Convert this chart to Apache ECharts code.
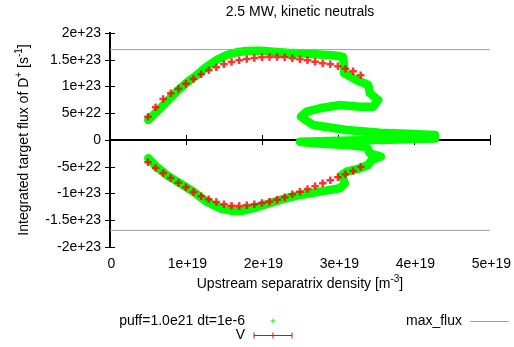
<!DOCTYPE html>
<html><head><meta charset="utf-8">
<script src="https://cdn.jsdelivr.net/npm/echarts@6/dist/echarts.min.js"></script>
<style>html,body{margin:0;padding:0;background:#fff}#c{width:514px;height:347px}</style>
</head><body><div id="c"></div>
<script>
// x in units of 1e19 m^-3, y in units of 1e23 s^-1
const xTickLabels = ['0','1e+19','2e+19','3e+19','4e+19','5e+19'];
const yTickLabels = ['-2e+23','-1.5e+23','-1e+23','-5e+22','0','5e+22','1e+23','1.5e+23','2e+23'];
const maxFlux = 1.69;
const greenX = [0.504,0.614,0.746,0.878,1.009,1.141,1.272,1.404,1.536,1.667,1.799,1.974,2.149,2.325,2.500,2.763,2.961,3.066,3.079,3.079,3.246,3.399,3.421,3.530,3.464,3.289,3.026,2.763,2.588,2.513,2.675,3.114,3.553,3.991,4.276,4.276,3.816,3.158,2.500,2.671,3.114,3.378,3.421,3.566,3.443,3.399,3.289,3.114,3.049,3.092,3.026,2.763,2.500,2.237,1.930,1.754,1.622,1.447,1.272,1.096,0.921,0.746,0.614,0.504];
const greenY = [0.374,0.529,0.716,0.903,1.071,1.215,1.370,1.495,1.589,1.639,1.664,1.669,1.650,1.632,1.621,1.598,1.579,1.551,1.402,1.252,1.121,1.028,0.873,0.748,0.622,0.622,0.654,0.593,0.529,0.436,0.280,0.187,0.136,0.112,0.093,0.028,0.009,-0.009,-0.032,-0.062,-0.093,-0.131,-0.249,-0.308,-0.374,-0.467,-0.529,-0.593,-0.654,-0.809,-0.903,-0.966,-1.028,-1.121,-1.258,-1.321,-1.327,-1.277,-1.153,-0.966,-0.809,-0.654,-0.499,-0.342];
const redX = [0.5,0.6,0.7,0.8,0.9,1.0,1.1,1.2,1.3,1.4,1.5,1.6,1.7,1.8,1.9,2.0,2.1,2.2,2.3,2.4,2.5,2.6,2.7,2.8,2.9,3.0,3.1,3.2,3.3];
const redUpperY = [0.436,0.611,0.766,0.873,0.959,1.052,1.140,1.228,1.303,1.359,1.415,1.458,1.490,1.514,1.533,1.546,1.551,1.551,1.546,1.527,1.508,1.490,1.464,1.434,1.415,1.378,1.333,1.284,1.209];
const redLowerY = [-0.417,-0.523,-0.617,-0.710,-0.798,-0.884,-0.972,-1.051,-1.107,-1.159,-1.202,-1.228,-1.234,-1.221,-1.202,-1.178,-1.153,-1.116,-1.071,-1.015,-0.966,-0.916,-0.865,-0.809,-0.753,-0.697,-0.641,-0.579,-0.505];

const FONT = '"Liberation Sans", Arial, sans-serif';
const chart = echarts.init(document.getElementById('c'), null, {renderer:'canvas'});
const xMin = 0, xMax = 5, xInt = 1, yMin = -2, yMax = 2, yInt = 0.5;
const fx = v => xTickLabels[Math.round((v - xMin) / xInt)] || '';
const fy = v => yTickLabels[Math.round((v - yMin) / yInt)] || '';
const axLine = {show:true, lineStyle:{color:'#000', width:2}};
const tick = {show:true, inside:true, length:5, lineStyle:{color:'#000', width:1}};
const greenData = greenX.map((x,i)=>[x, greenY[i]]);
const up = redX.map((x,i)=>[x, redUpperY[i]]);
const lo = redX.map((x,i)=>[x, redLowerY[i]]);
const plus = 'path://M3,0H6V3H9V6H6V9H3V6H0V3H3Z';

chart.setOption({
  animation:false,
  grid:{left:110, right:24, top:33, bottom:100},
  xAxis:[
    {type:'value', min:xMin, max:xMax, interval:xInt, position:'bottom',
     axisLine:axLine, axisTick:tick, splitLine:{show:false},
     axisLabel:{formatter:fx, color:'#000', fontSize:14, fontFamily:FONT, margin:10, padding:[0,0,0,3]}},
    {type:'value', min:xMin, max:xMax, interval:xInt, position:'top',
     axisLine:axLine, axisTick:tick, splitLine:{show:false}, axisLabel:{show:false}}
  ],
  yAxis:[
    {type:'value', min:yMin, max:yMax, interval:yInt, position:'left',
     axisLine:axLine, axisTick:tick, splitLine:{show:false},
     axisLabel:{formatter:fy, color:'#000', fontSize:14, fontFamily:FONT, margin:9}},
    {type:'value', min:yMin, max:yMax, interval:yInt, position:'right',
     axisLine:axLine, axisTick:tick, splitLine:{show:false}, axisLabel:{show:false}}
  ],
  series:[
    {type:'line', data:greenData, symbol:'none', silent:true,
     lineStyle:{color:'#00ff00', width:8.5, cap:'round', join:'round'}, z:2},
    {type:'scatter', data:up, symbol:plus, symbolSize:7.5, itemStyle:{color:'#ff0000'}, z:3},
    {type:'scatter', data:lo, symbol:plus, symbolSize:7.5, itemStyle:{color:'#ff0000'}, z:3},
    {type:'line', data:[[xMin,maxFlux],[xMax,maxFlux]], symbol:'none', lineStyle:{color:'#a0a0a0', width:1}, z:4},
    {type:'line', data:[[xMin,-maxFlux],[xMax,-maxFlux]], symbol:'none', lineStyle:{color:'#a0a0a0', width:1}, z:4}
  ],
  graphic:[
    {type:'text', x:300, y:12, style:{text:'2.5 MW, kinetic neutrals', font:'14px '+FONT, fill:'#000', textAlign:'center', textVerticalAlign:'middle'}},
    {type:'text', x:300, y:284, style:{
      text:'Upstream separatrix density [m{sup|-3}]',
      font:'14px '+FONT, fill:'#000', textAlign:'center', textVerticalAlign:'middle',
      rich:{sup:{fontSize:10, fontFamily:FONT, fill:'#000', padding:[0,0,10,0]}}}},
    {type:'text', x:24, y:140, rotation:Math.PI/2, style:{
      text:'Integrated target flux of D{sup|+} [s{sup|-1}]',
      font:'14px '+FONT, fill:'#000', textAlign:'center', textVerticalAlign:'middle',
      rich:{sup:{fontSize:10, fontFamily:FONT, fill:'#000', padding:[0,0,10,0]}}}},
    {type:'text', x:245, y:321, style:{text:'puff=1.0e21 dt=1e-6', font:'14px '+FONT, fill:'#000', textAlign:'right', textVerticalAlign:'middle'}},
    {type:'line', shape:{x1:270.5, y1:321, x2:275.5, y2:321}, style:{stroke:'#00ff00', lineWidth:1}},
    {type:'line', shape:{x1:273, y1:318.5, x2:273, y2:323.5}, style:{stroke:'#00ff00', lineWidth:1}},
    {type:'text', x:245, y:335, style:{text:'V', font:'14px '+FONT, fill:'#000', textAlign:'right', textVerticalAlign:'middle'}},
    {type:'line', shape:{x1:254, y1:335.5, x2:292, y2:335.5}, style:{stroke:'#ff0000', lineWidth:1}},
    {type:'line', shape:{x1:254, y1:332.5, x2:254, y2:338.5}, style:{stroke:'#ff0000', lineWidth:1}},
    {type:'line', shape:{x1:292, y1:332.5, x2:292, y2:338.5}, style:{stroke:'#ff0000', lineWidth:1}},
    {type:'line', shape:{x1:273, y1:332.5, x2:273, y2:338.5}, style:{stroke:'#ff0000', lineWidth:1}},
    {type:'text', x:462, y:321, style:{text:'max_flux', font:'14px '+FONT, fill:'#000', textAlign:'right', textVerticalAlign:'middle'}},
    {type:'line', shape:{x1:470, y1:321.5, x2:509, y2:321.5}, style:{stroke:'#a0a0a0', lineWidth:1}}
  ]
});
</script></body></html>
